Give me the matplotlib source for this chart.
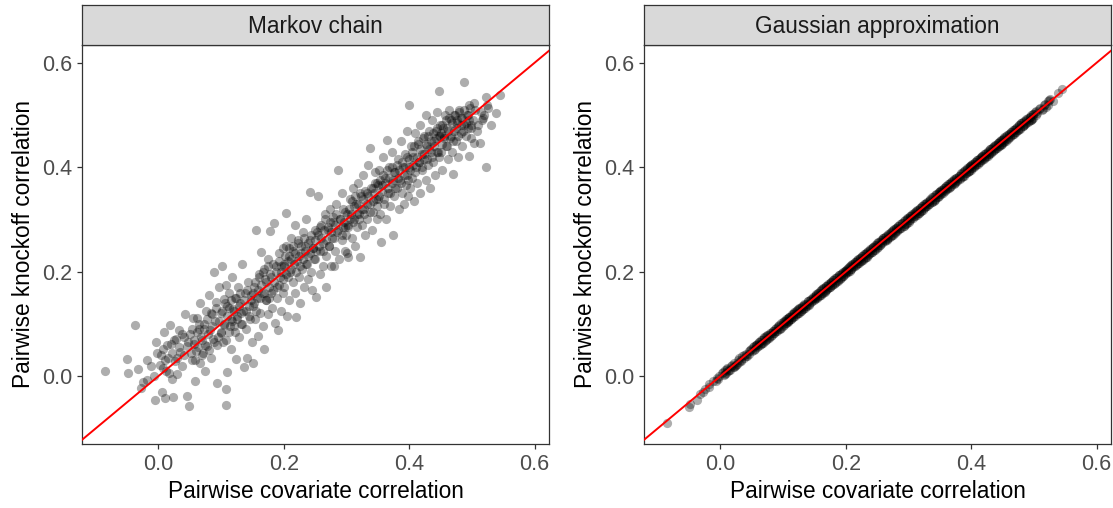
#!/usr/bin/env python3

"""
Pairwise knockoff correlation vs pairwise covariate correlation,
Markov chain knockoffs and Gaussian approximation side by side.
"""

import matplotlib
matplotlib.use('Agg')
import matplotlib.pyplot as plt

plt.rcParams['font.family'] = ['Liberation Sans', 'DejaVu Sans']

# Pairwise covariate correlation (same pairs in both panels)
cov_corr = [
    -0.085, -0.051, -0.048, -0.038, -0.032, -0.028, -0.024, -0.019, -0.018, -0.012, -0.007, -0.005, -0.004, -0.002,
    0.002, 0.005, 0.008, 0.009, 0.010, 0.012, 0.015, 0.018, 0.020, 0.022, 0.023, 0.026, 0.028, 0.030, 0.033, 0.035, 0.038, 0.040, 0.042, 0.045, 0.046, 0.048,
    0.051, 0.053, 0.055, 0.057, 0.058, 0.060, 0.062, 0.064, 0.066, 0.067, 0.069, 0.071, 0.072, 0.074, 0.076, 0.078, 0.080, 0.082, 0.084, 0.085, 0.087, 0.089, 0.091, 0.093, 0.094, 0.096, 0.097, 0.099,
    0.100, 0.101, 0.103, 0.104, 0.105, 0.107, 0.108, 0.108, 0.109, 0.110, 0.112, 0.113, 0.115, 0.116, 0.118, 0.119, 0.121, 0.122, 0.124, 0.125, 0.127, 0.128, 0.130, 0.132, 0.133, 0.135, 0.136, 0.138, 0.140, 0.141, 0.143, 0.145, 0.147, 0.149,
    0.150, 0.151, 0.153, 0.154, 0.156, 0.157, 0.159, 0.160, 0.162, 0.163, 0.165, 0.166, 0.168, 0.169, 0.171, 0.172, 0.174, 0.175, 0.177, 0.178, 0.180, 0.181, 0.183, 0.184, 0.186, 0.187, 0.189, 0.190, 0.192, 0.193, 0.195, 0.196, 0.198, 0.199,
    0.200, 0.201, 0.203, 0.204, 0.205, 0.206, 0.208, 0.209, 0.211, 0.212, 0.214, 0.215, 0.217, 0.218, 0.220, 0.221, 0.223, 0.224, 0.226, 0.227, 0.229, 0.230, 0.232, 0.233, 0.235, 0.236, 0.238, 0.239, 0.241, 0.242, 0.244, 0.245, 0.247, 0.249,
    0.250, 0.252, 0.253, 0.255, 0.257, 0.258, 0.260, 0.262, 0.263, 0.265, 0.267, 0.268, 0.270, 0.272, 0.273, 0.275, 0.277, 0.278, 0.280, 0.282, 0.283, 0.285, 0.287, 0.288, 0.290, 0.292, 0.293, 0.295, 0.297, 0.298, 0.299, 0.300,
    0.302, 0.303, 0.305, 0.307, 0.308, 0.310, 0.312, 0.313, 0.315, 0.317, 0.318, 0.320, 0.322, 0.323, 0.325, 0.327, 0.328, 0.330, 0.332, 0.333, 0.335, 0.337, 0.338, 0.340, 0.342, 0.343, 0.345, 0.347, 0.348, 0.349,
    0.350, 0.352, 0.353, 0.355, 0.357, 0.358, 0.360, 0.362, 0.363, 0.364, 0.366, 0.368, 0.370, 0.372, 0.373, 0.374, 0.376, 0.378, 0.380, 0.382, 0.383, 0.385, 0.387, 0.388, 0.390, 0.392, 0.393, 0.395, 0.396, 0.397, 0.398, 0.399,
    0.400, 0.402, 0.403, 0.405, 0.406, 0.408, 0.409, 0.411, 0.412, 0.414, 0.415, 0.417, 0.418, 0.420, 0.421, 0.423, 0.424, 0.426, 0.427, 0.429, 0.430, 0.432, 0.433, 0.435, 0.436, 0.438, 0.439, 0.441, 0.442, 0.444, 0.445, 0.447, 0.448, 0.449,
    0.450, 0.452, 0.453, 0.455, 0.457, 0.458, 0.460, 0.462, 0.463, 0.465, 0.467, 0.468, 0.470, 0.471, 0.473, 0.475, 0.477, 0.478, 0.480, 0.482, 0.483, 0.485, 0.487, 0.488, 0.490, 0.492, 0.493, 0.495, 0.496, 0.497, 0.498, 0.499,
    0.503, 0.503, 0.508, 0.513, 0.516, 0.520, 0.522, 0.523, 0.526, 0.530, 0.539, 0.545,
    # dense core of the cloud
    0.004, 0.007, 0.011, 0.014, 0.017, 0.021, 0.025, 0.029, 0.032, 0.037, 0.041, 0.047,
    0.052, 0.054, 0.056, 0.059, 0.061, 0.063, 0.065, 0.068, 0.070, 0.073, 0.075, 0.077, 0.079, 0.081, 0.083, 0.086, 0.088, 0.090, 0.092, 0.095,
    0.100, 0.102, 0.104, 0.106, 0.108, 0.110, 0.112, 0.114, 0.116, 0.118, 0.120, 0.122, 0.124, 0.126, 0.128, 0.130, 0.132, 0.134, 0.137, 0.139, 0.142, 0.144, 0.146, 0.148,
    0.150, 0.152, 0.154, 0.156, 0.158, 0.160, 0.162, 0.164, 0.166, 0.168, 0.170, 0.172, 0.174, 0.176, 0.178, 0.180, 0.182, 0.184, 0.187, 0.189, 0.192, 0.194, 0.196, 0.198,
    0.200, 0.202, 0.204, 0.206, 0.208, 0.210, 0.212, 0.214, 0.216, 0.218, 0.220, 0.222, 0.224, 0.226, 0.228, 0.230, 0.232, 0.234, 0.237, 0.239, 0.242, 0.244, 0.246, 0.248,
    0.250, 0.252, 0.254, 0.256, 0.258, 0.260, 0.262, 0.264, 0.266, 0.268, 0.270, 0.272, 0.274, 0.276, 0.278, 0.280, 0.282, 0.284, 0.287, 0.289, 0.292, 0.294, 0.296, 0.298,
    0.300, 0.302, 0.304, 0.306, 0.308, 0.310, 0.312, 0.314, 0.316, 0.318, 0.320, 0.322, 0.324, 0.326, 0.328, 0.330, 0.332, 0.334, 0.337, 0.339, 0.342, 0.344, 0.346, 0.348,
    0.350, 0.352, 0.354, 0.356, 0.358, 0.360, 0.362, 0.364, 0.366, 0.368, 0.370, 0.372, 0.374, 0.376, 0.378, 0.380, 0.382, 0.384, 0.387, 0.389, 0.392, 0.394, 0.396, 0.398,
    0.400, 0.402, 0.404, 0.406, 0.408, 0.410, 0.412, 0.414, 0.416, 0.418, 0.420, 0.422, 0.424, 0.426, 0.428, 0.430, 0.432, 0.434, 0.436, 0.438, 0.440, 0.442, 0.444, 0.446, 0.448, 0.449,
    0.450, 0.452, 0.454, 0.456, 0.458, 0.460, 0.462, 0.464, 0.466, 0.468, 0.470, 0.472, 0.474, 0.476, 0.478, 0.480, 0.482, 0.484, 0.486, 0.488, 0.491, 0.493, 0.495, 0.498,
    0.501, 0.505, 0.510, 0.514, 0.518, 0.524,
]

# Pairwise knockoff correlation, Markov chain knockoffs
mc_corr = [
    0.010, 0.033, 0.005, 0.098, 0.013, -0.022, -0.011, 0.031, -0.008, 0.020, 0.000, -0.045, 0.066, 0.044,
    0.021, -0.030, 0.052, 0.085, -0.041, 0.010, 0.035, 0.098, 0.062, -0.005, -0.040, 0.028, 0.071, 0.004, 0.088, 0.046, 0.020, 0.075, 0.118, -0.038, 0.057, -0.057,
    0.080, 0.030, 0.111, 0.062, -0.010, 0.048, 0.111, 0.090, 0.025, 0.140, 0.070, 0.044, 0.100, 0.010, 0.125, 0.058, 0.155, 0.088, 0.035, 0.118, 0.072, 0.200, 0.142, 0.060, -0.013, 0.105, 0.170, 0.082,
    0.120, 0.210, 0.065, 0.148, 0.098, 0.175, -0.055, -0.024, 0.008, 0.135, 0.085, 0.160, 0.110, 0.052, 0.190, 0.128, 0.095, 0.150, 0.032, 0.115, 0.170, 0.075, 0.140, 0.100, 0.215, 0.125, 0.018, 0.160, 0.090, 0.035, 0.180, 0.115, 0.145, 0.065,
    0.135, 0.026, 0.170, 0.110, 0.280, 0.150, 0.077, 0.195, 0.120, 0.238, 0.160, 0.095, 0.205, 0.051, 0.145, 0.180, 0.118, 0.225, 0.150, 0.277, 0.190, 0.130, 0.165, 0.293, 0.101, 0.210, 0.150, 0.088, 0.235, 0.175, 0.125, 0.200, 0.160, 0.245,
    0.215, 0.170, 0.312, 0.250, 0.115, 0.190, 0.230, 0.145, 0.265, 0.205, 0.180, 0.240, 0.160, 0.290, 0.114, 0.220, 0.255, 0.190, 0.140, 0.235, 0.205, 0.275, 0.170, 0.250, 0.215, 0.300, 0.185, 0.230, 0.353, 0.260, 0.200, 0.165, 0.245, 0.280,
    0.225, 0.152, 0.275, 0.344, 0.240, 0.195, 0.290, 0.255, 0.210, 0.310, 0.230, 0.171, 0.280, 0.250, 0.320, 0.210, 0.265, 0.295, 0.210, 0.240, 0.330, 0.275, 0.395, 0.225, 0.300, 0.260, 0.350, 0.285, 0.240, 0.315, 0.270, 0.235,
    0.290, 0.229, 0.340, 0.310, 0.265, 0.360, 0.300, 0.250, 0.330, 0.285, 0.370, 0.310, 0.229, 0.345, 0.290, 0.385, 0.320, 0.270, 0.350, 0.300, 0.405, 0.330, 0.436, 0.280, 0.360, 0.315, 0.390, 0.340, 0.300, 0.370,
    0.340, 0.395, 0.310, 0.256, 0.365, 0.420, 0.330, 0.380, 0.300, 0.452, 0.350, 0.400, 0.325, 0.370, 0.430, 0.270, 0.345, 0.390, 0.360, 0.415, 0.320, 0.375, 0.450, 0.350, 0.400, 0.330, 0.425, 0.365, 0.470, 0.385, 0.345, 0.519,
    0.400, 0.360, 0.440, 0.380, 0.420, 0.335, 0.465, 0.400, 0.370, 0.445, 0.410, 0.480, 0.350, 0.425, 0.395, 0.460, 0.415, 0.375, 0.500, 0.440, 0.405, 0.470, 0.360, 0.430, 0.490, 0.410, 0.450, 0.385, 0.470, 0.430, 0.505, 0.545, 0.420, 0.460,
    0.430, 0.480, 0.395, 0.460, 0.500, 0.440, 0.475, 0.415, 0.510, 0.455, 0.490, 0.430, 0.387, 0.470, 0.500, 0.450, 0.485, 0.420, 0.510, 0.465, 0.495, 0.440, 0.480, 0.564, 0.460, 0.500, 0.475, 0.422, 0.490, 0.514, 0.455, 0.480,
    0.523, 0.447, 0.470, 0.447, 0.491, 0.500, 0.400, 0.535, 0.513, 0.480, 0.504, 0.539,
    # dense core of the cloud
    0.040, 0.015, 0.030, 0.060, 0.005, 0.045, 0.070, 0.035, 0.055, 0.080, 0.040, 0.065,
    0.045, 0.090, 0.070, 0.030, 0.085, 0.055, 0.100, 0.075, 0.040, 0.090, 0.060, 0.110, 0.080, 0.050, 0.120, 0.095, 0.065, 0.105, 0.130, 0.075,
    0.085, 0.125, 0.100, 0.140, 0.070, 0.115, 0.130, 0.095, 0.145, 0.105, 0.125, 0.085, 0.150, 0.110, 0.135, 0.160, 0.120, 0.100, 0.145, 0.125, 0.165, 0.135, 0.110, 0.155,
    0.160, 0.140, 0.180, 0.125, 0.165, 0.190, 0.150, 0.175, 0.200, 0.160, 0.185, 0.145, 0.210, 0.170, 0.195, 0.160, 0.215, 0.180, 0.200, 0.170, 0.220, 0.190, 0.210, 0.185,
    0.210, 0.230, 0.195, 0.220, 0.245, 0.200, 0.225, 0.250, 0.215, 0.235, 0.200, 0.260, 0.230, 0.210, 0.250, 0.225, 0.265, 0.240, 0.215, 0.255, 0.235, 0.270, 0.245, 0.225,
    0.260, 0.240, 0.270, 0.250, 0.285, 0.265, 0.240, 0.280, 0.300, 0.260, 0.285, 0.250, 0.295, 0.275, 0.305, 0.265, 0.290, 0.310, 0.280, 0.300, 0.270, 0.320, 0.295, 0.285,
    0.310, 0.285, 0.320, 0.300, 0.335, 0.295, 0.325, 0.345, 0.310, 0.330, 0.300, 0.350, 0.320, 0.340, 0.310, 0.355, 0.330, 0.345, 0.315, 0.360, 0.335, 0.350, 0.370, 0.325,
    0.365, 0.345, 0.375, 0.355, 0.385, 0.340, 0.370, 0.395, 0.360, 0.380, 0.350, 0.400, 0.375, 0.390, 0.360, 0.405, 0.380, 0.395, 0.370, 0.410, 0.385, 0.400, 0.420, 0.375,
    0.415, 0.395, 0.430, 0.405, 0.440, 0.390, 0.420, 0.450, 0.410, 0.435, 0.400, 0.455, 0.425, 0.445, 0.415, 0.460, 0.435, 0.450, 0.420, 0.465, 0.440, 0.455, 0.475, 0.430, 0.460, 0.480,
    0.465, 0.445, 0.475, 0.455, 0.490, 0.440, 0.470, 0.495, 0.460, 0.485, 0.450, 0.500, 0.475, 0.490, 0.460, 0.505, 0.480, 0.495, 0.470, 0.510, 0.485, 0.500, 0.520, 0.475,
    0.490, 0.510, 0.480, 0.505, 0.495, 0.520,
]

# Pairwise knockoff correlation, Gaussian approximation
gauss_corr = [
    -0.090, -0.060, -0.054, -0.045, -0.035, -0.031, -0.024, -0.016, -0.020, -0.010, -0.009, -0.003, -0.006, 0.001,
    0.005, 0.002, 0.011, 0.006, 0.013, 0.009, 0.012, 0.021, 0.017, 0.025, 0.020, 0.023, 0.031, 0.027, 0.030, 0.039, 0.035, 0.043, 0.039, 0.048, 0.043, 0.051,
    0.048, 0.057, 0.052, 0.060, 0.061, 0.057, 0.066, 0.061, 0.070, 0.064, 0.073, 0.068, 0.076, 0.071, 0.079, 0.075, 0.083, 0.079, 0.087, 0.082, 0.091, 0.086, 0.094, 0.090, 0.098, 0.093, 0.101, 0.096,
    0.104, 0.097, 0.106, 0.101, 0.109, 0.104, 0.112, 0.105, 0.113, 0.107, 0.116, 0.110, 0.119, 0.113, 0.121, 0.116, 0.124, 0.118, 0.128, 0.121, 0.130, 0.125, 0.133, 0.128, 0.137, 0.131, 0.139, 0.134, 0.143, 0.137, 0.146, 0.141, 0.150, 0.145,
    0.154, 0.147, 0.157, 0.150, 0.160, 0.153, 0.163, 0.156, 0.166, 0.159, 0.169, 0.162, 0.172, 0.165, 0.175, 0.168, 0.178, 0.171, 0.181, 0.174, 0.184, 0.177, 0.187, 0.180, 0.190, 0.183, 0.193, 0.186, 0.196, 0.189, 0.199, 0.192, 0.202, 0.195,
    0.204, 0.197, 0.207, 0.200, 0.209, 0.202, 0.212, 0.205, 0.215, 0.208, 0.218, 0.211, 0.221, 0.214, 0.224, 0.217, 0.227, 0.220, 0.230, 0.223, 0.233, 0.226, 0.236, 0.229, 0.239, 0.232, 0.242, 0.235, 0.245, 0.238, 0.248, 0.241, 0.251, 0.245,
    0.254, 0.248, 0.257, 0.251, 0.261, 0.254, 0.264, 0.258, 0.267, 0.261, 0.271, 0.264, 0.274, 0.268, 0.277, 0.271, 0.281, 0.274, 0.284, 0.278, 0.287, 0.281, 0.291, 0.284, 0.294, 0.288, 0.297, 0.291, 0.301, 0.294, 0.303, 0.296,
    0.306, 0.299, 0.309, 0.303, 0.312, 0.306, 0.316, 0.309, 0.319, 0.313, 0.322, 0.316, 0.326, 0.319, 0.329, 0.323, 0.332, 0.326, 0.336, 0.329, 0.339, 0.333, 0.342, 0.336, 0.346, 0.339, 0.349, 0.343, 0.352, 0.345,
    0.354, 0.348, 0.357, 0.351, 0.361, 0.354, 0.364, 0.358, 0.367, 0.360, 0.370, 0.364, 0.374, 0.368, 0.377, 0.370, 0.380, 0.374, 0.384, 0.378, 0.387, 0.381, 0.391, 0.384, 0.394, 0.388, 0.397, 0.391, 0.400, 0.393, 0.402, 0.395,
    0.404, 0.398, 0.407, 0.401, 0.410, 0.404, 0.413, 0.407, 0.416, 0.410, 0.419, 0.413, 0.422, 0.416, 0.425, 0.419, 0.428, 0.422, 0.431, 0.425, 0.434, 0.428, 0.437, 0.431, 0.440, 0.434, 0.443, 0.437, 0.446, 0.440, 0.449, 0.443, 0.452, 0.445,
    0.454, 0.448, 0.457, 0.451, 0.461, 0.454, 0.464, 0.458, 0.467, 0.461, 0.471, 0.464, 0.474, 0.467, 0.477, 0.471, 0.481, 0.474, 0.484, 0.478, 0.487, 0.481, 0.491, 0.484, 0.494, 0.488, 0.497, 0.491, 0.500, 0.493, 0.502, 0.495,
    0.507, 0.500, 0.512, 0.509, 0.520, 0.516, 0.526, 0.520, 0.530, 0.527, 0.543, 0.550,
    # dense core of the cloud
    0.007, 0.004, 0.015, 0.011, 0.020, 0.018, 0.022, 0.034, 0.028, 0.041, 0.038, 0.050,
    0.055, 0.050, 0.060, 0.056, 0.065, 0.059, 0.069, 0.064, 0.074, 0.069, 0.078, 0.073, 0.083, 0.077, 0.087, 0.082, 0.092, 0.086, 0.096, 0.091,
    0.099, 0.106, 0.102, 0.110, 0.106, 0.114, 0.110, 0.118, 0.114, 0.122, 0.118, 0.126, 0.121, 0.130, 0.125, 0.134, 0.129, 0.138, 0.134, 0.143, 0.138, 0.148, 0.143, 0.152,
    0.149, 0.156, 0.152, 0.160, 0.156, 0.164, 0.160, 0.168, 0.163, 0.172, 0.167, 0.176, 0.171, 0.180, 0.175, 0.184, 0.179, 0.188, 0.184, 0.193, 0.188, 0.198, 0.192, 0.202,
    0.199, 0.206, 0.202, 0.210, 0.206, 0.214, 0.210, 0.218, 0.213, 0.222, 0.217, 0.226, 0.221, 0.230, 0.225, 0.234, 0.229, 0.238, 0.234, 0.243, 0.238, 0.248, 0.242, 0.252,
    0.249, 0.256, 0.252, 0.260, 0.256, 0.264, 0.260, 0.268, 0.263, 0.272, 0.267, 0.276, 0.271, 0.280, 0.275, 0.284, 0.279, 0.288, 0.284, 0.293, 0.288, 0.298, 0.292, 0.302,
    0.299, 0.306, 0.302, 0.310, 0.306, 0.314, 0.310, 0.318, 0.313, 0.322, 0.317, 0.326, 0.321, 0.330, 0.325, 0.334, 0.329, 0.338, 0.334, 0.343, 0.338, 0.348, 0.342, 0.352,
    0.349, 0.356, 0.352, 0.360, 0.356, 0.364, 0.360, 0.368, 0.363, 0.372, 0.367, 0.376, 0.371, 0.380, 0.375, 0.384, 0.379, 0.388, 0.384, 0.393, 0.388, 0.398, 0.392, 0.402,
    0.399, 0.406, 0.402, 0.410, 0.406, 0.414, 0.410, 0.418, 0.413, 0.422, 0.417, 0.426, 0.421, 0.430, 0.425, 0.434, 0.429, 0.438, 0.433, 0.442, 0.437, 0.446, 0.441, 0.450, 0.445, 0.453,
    0.449, 0.456, 0.452, 0.460, 0.456, 0.464, 0.460, 0.468, 0.463, 0.472, 0.467, 0.476, 0.471, 0.480, 0.475, 0.484, 0.479, 0.488, 0.483, 0.492, 0.487, 0.497, 0.491, 0.501,
    0.505, 0.503, 0.513, 0.511, 0.521, 0.528,
]

panel_titles = ['Markov chain', 'Gaussian approximation']
tick_vals    = [0.0, 0.2, 0.4, 0.6]
tick_labels  = ['0.0', '0.2', '0.4', '0.6']
x_title = 'Pairwise covariate correlation'
y_title = 'Pairwise knockoff correlation'


def draw_panel(fig, rect, x, y, title):
    '''One facet: scatter, y = x reference line and a grey strip on top'''
    ax = fig.add_axes(rect)
    ax.scatter(x, y, s=44, color='black', alpha=0.32, linewidths=0, zorder=2)
    ax.axline((0, 0), slope=1, color='red', lw=1.4, zorder=3)

    ax.set_xlim(-0.122, 0.623)
    ax.set_ylim(-0.130, 0.634)
    ax.set_xticks(tick_vals)
    ax.set_xticklabels(tick_labels)
    ax.set_yticks(tick_vals)
    ax.set_yticklabels(tick_labels)
    ax.tick_params(length=3.6, width=0.9, color='#333333', labelcolor='#4D4D4D',
                   labelsize=15.5, pad=3.5)
    for sp in ax.spines.values():
        sp.set_color('#333333')
        sp.set_linewidth(0.9)

    ax.set_xlabel(x_title, fontsize=16.3, color='black', labelpad=4)
    ax.set_ylabel(y_title, fontsize=16.3, color='black', labelpad=5)

    # facet strip
    left, bottom, width, height = rect
    strip = fig.add_axes([left, bottom + height, width, 40 / 508])
    strip.set_facecolor('#D9D9D9')
    strip.set_xticks([])
    strip.set_yticks([])
    for sp in strip.spines.values():
        sp.set_color('#333333')
        sp.set_linewidth(0.9)
    strip.text(0.5, 0.47, title, ha='center', va='center', fontsize=16.3,
               color='#1A1A1A', transform=strip.transAxes)
    return ax


if __name__ == "__main__":
    assert len(cov_corr) == len(mc_corr) == len(gauss_corr)

    fig = plt.figure(figsize=(11.13, 5.08), dpi=100)
    W, H = 1113, 508
    bottom = 1 - 444 / H
    height = (444 - 45) / H

    draw_panel(fig, [82 / W, bottom, 467 / W, height], cov_corr, mc_corr, panel_titles[0])
    draw_panel(fig, [644 / W, bottom, 467 / W, height], cov_corr, gauss_corr, panel_titles[1])

    fig.savefig('out.png', dpi=100)
